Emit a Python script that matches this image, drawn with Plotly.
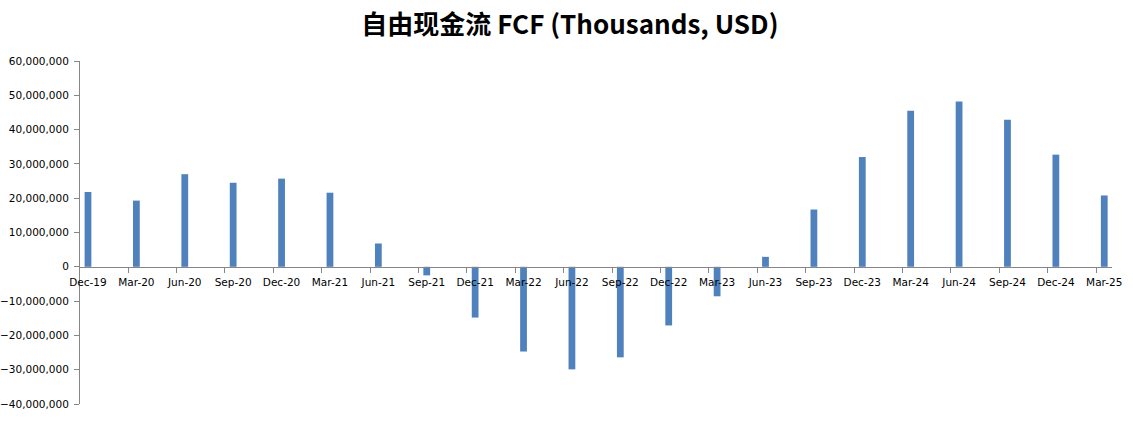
import plotly.graph_objects as go

categories = ["Dec-19", "Mar-20", "Jun-20", "Sep-20", "Dec-20", "Mar-21", "Jun-21", "Sep-21",
              "Dec-21", "Mar-22", "Jun-22", "Sep-22", "Dec-22", "Mar-23", "Jun-23", "Sep-23",
              "Dec-23", "Mar-24", "Jun-24", "Sep-24", "Dec-24", "Mar-25"]
fcf = [21800000, 19300000, 27000000, 24500000, 25700000, 21600000, 6800000, -2500000,
       -14800000, -24700000, -29900000, -26400000, -17100000, -8600000, 2900000, 16700000,
       32000000, 45500000, 48200000, 42900000, 32700000, 20800000]
y_ticks = [-40000000, -30000000, -20000000, -10000000, 0, 10000000, 20000000,
           30000000, 40000000, 50000000, 60000000]

x = list(range(len(categories)))
y_min, y_max = y_ticks[0], y_ticks[-1]
zero_frac = (0 - y_min) / (y_max - y_min)

fig = go.Figure(go.Bar(x=x, y=fcf, width=0.14, marker=dict(color="#4F81BD", line=dict(width=0))))

font = "DejaVu Sans, Verdana, sans-serif"
fig.update_layout(
    width=1133, height=423,
    margin=dict(l=80, r=21, t=61, b=19, autoexpand=False),
    paper_bgcolor="white", plot_bgcolor="white",
    showlegend=False,
    title=dict(text="<b>自由现金流 FCF (Thousands, USD)</b>", x=0.503, xanchor="center",
               y=0.94, yanchor="middle", automargin=False,
               font=dict(family="Noto Sans CJK SC", size=26, color="black")),
    xaxis=dict(
        range=[-0.165, len(categories) - 1 + 0.16],
        tickmode="array", tickvals=x, ticktext=categories,
        ticks="", showline=True, linecolor="#868686", linewidth=1,
        ticklabelstandoff=6,
        showgrid=False, zeroline=False, automargin=False,
        anchor="free", position=zero_frac,
        tickfont=dict(family=font, size=10.5, color="black"),
        minor=dict(tickmode="array", tickvals=[i + 0.83 for i in x], ticks="outside",
                   ticklen=5, tickcolor="#868686", showgrid=False),
    ),
    yaxis=dict(
        range=[y_min, y_max], tickmode="array", tickvals=y_ticks,
        tickformat=",d", ticks="outside", ticklen=5, tickcolor="#868686",
        ticklabelstandoff=3,
        showline=True, linecolor="#868686", linewidth=1,
        showgrid=False, zeroline=False, automargin=False,
        tickfont=dict(family=font, size=10.5, color="black"),
    ),
)

fig.write_html("out.html", config={"displayModeBar": False},
               post_script="document.body.style.margin='0px';")
